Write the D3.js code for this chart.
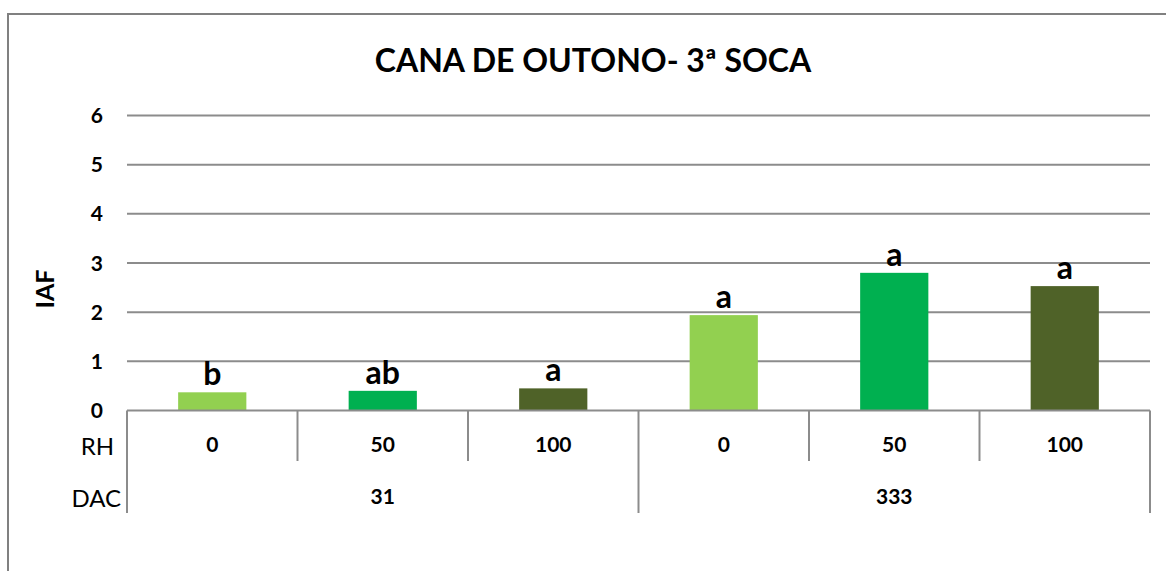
<!DOCTYPE html>
<html>
<head>
    <style>
        html,
        body {
            width: 100%;
            height: 100%;
            margin: 0;
            padding: 0;
            overflow: hidden;
            background: #fff;
        }
        text { font-family: Lato, "Open Sans", sans-serif; fill: #000; }
    </style>
</head>
<body>
<script src="https://d3js.org/d3.v7.min.js"></script>
<script>
    // data
    const rhLabels = ["0", "50", "100", "0", "50", "100"];
    const dacLabels = ["31", "333"];
    const iaf = [0.37, 0.40, 0.45, 1.94, 2.80, 2.53];
    const letters = ["b", "ab", "a", "a", "a", "a"];
    const yTicks = [0, 1, 2, 3, 4, 5, 6];

    const barColors = ["#92D050", "#00B050", "#4F6228"]; // by RH level
    const gridColor = "#8c8c8c";

    const width = 1166, height = 571;
    const plotLeft = 127, plotRight = 1150, plotTop = 115.5, plotBottom = 410.5;

    const svg = d3.select("body").append("svg")
        .attr("width", width)
        .attr("height", height);

    // outer chart border (runs off the right and bottom edges)
    svg.append("rect")
        .attr("x", 8).attr("y", 14)
        .attr("width", 1200).attr("height", 600)
        .attr("fill", "none")
        .attr("stroke", "#808080")
        .attr("stroke-width", 2);

    const idx = d3.range(iaf.length);
    const x = d3.scaleBand()
        .domain(idx)
        .range([plotLeft, plotRight])
        .paddingInner(0.6)
        .paddingOuter(0.3);
    const step = x.step();

    const y = d3.scaleLinear().domain([0, 6]).range([plotBottom, plotTop]);

    // gridlines
    svg.append("g")
        .selectAll("line")
        .data(yTicks.filter(d => d > 0))
        .join("line")
        .attr("x1", plotLeft).attr("x2", plotRight)
        .attr("y1", d => y(d)).attr("y2", d => y(d))
        .attr("stroke", gridColor)
        .attr("stroke-width", 2);

    // y tick labels
    svg.append("g")
        .selectAll("text")
        .data(yTicks)
        .join("text")
        .attr("x", 103)
        .attr("y", d => y(d))
        .attr("dy", "0.36em")
        .attr("text-anchor", "end")
        .style("font-size", "21px")
        .style("font-weight", "bold")
        .text(d => d);

    // y axis title
    svg.append("text")
        .attr("transform", "translate(54,289) rotate(-90)")
        .attr("text-anchor", "middle")
        .style("font-size", "25px")
        .style("font-weight", "bold")
        .text("IAF");

    // title
    svg.append("text")
        .attr("x", 593).attr("y", 72)
        .attr("text-anchor", "middle")
        .style("font-size", "32px")
        .style("font-weight", "bold")
        .text("CANA DE OUTONO- 3ª SOCA");

    // bars
    svg.append("g")
        .selectAll("rect")
        .data(idx)
        .join("rect")
        .attr("x", i => x(i))
        .attr("width", x.bandwidth())
        .attr("y", i => y(iaf[i]))
        .attr("height", i => y(0) - y(iaf[i]))
        .attr("fill", i => barColors[i % 3]);

    // significance letters
    svg.append("g")
        .selectAll("text")
        .data(idx)
        .join("text")
        .attr("x", i => x(i) + x.bandwidth() / 2)
        .attr("y", i => y(iaf[i]) - 7)
        .attr("text-anchor", "middle")
        .style("font-size", "32px")
        .style("font-weight", "bold")
        .text(i => letters[i]);

    // category axis line
    svg.append("line")
        .attr("x1", plotLeft).attr("x2", plotRight)
        .attr("y1", plotBottom).attr("y2", plotBottom)
        .attr("stroke", gridColor)
        .attr("stroke-width", 2);

    // separators: short between RH levels, long between DAC groups
    const bounds = d3.range(iaf.length + 1);
    svg.append("g")
        .selectAll("line")
        .data(bounds)
        .join("line")
        .attr("x1", b => plotLeft + b * step)
        .attr("x2", b => plotLeft + b * step)
        .attr("y1", plotBottom)
        .attr("y2", b => b % 3 === 0 ? 513 : 461)
        .attr("stroke", gridColor)
        .attr("stroke-width", 2);

    // RH labels
    svg.append("g")
        .selectAll("text")
        .data(idx)
        .join("text")
        .attr("x", i => x(i) + x.bandwidth() / 2)
        .attr("y", 444)
        .attr("dy", "0.36em")
        .attr("text-anchor", "middle")
        .style("font-size", "21px")
        .style("font-weight", "bold")
        .text(i => rhLabels[i]);

    // DAC labels
    svg.append("g")
        .selectAll("text")
        .data(dacLabels)
        .join("text")
        .attr("x", (d, g) => plotLeft + (g * 3 + 1.5) * step)
        .attr("y", 496)
        .attr("dy", "0.36em")
        .attr("text-anchor", "middle")
        .style("font-size", "21px")
        .style("font-weight", "bold")
        .text(d => d);

    // row titles
    svg.append("text")
        .attr("x", 114).attr("y", 446)
        .attr("dy", "0.36em")
        .attr("text-anchor", "end")
        .style("font-size", "24px")
        .text("RH");
    svg.append("text")
        .attr("x", 121).attr("y", 498)
        .attr("dy", "0.36em")
        .attr("text-anchor", "end")
        .style("font-size", "24px")
        .text("DAC");
</script>
</body>
</html>
